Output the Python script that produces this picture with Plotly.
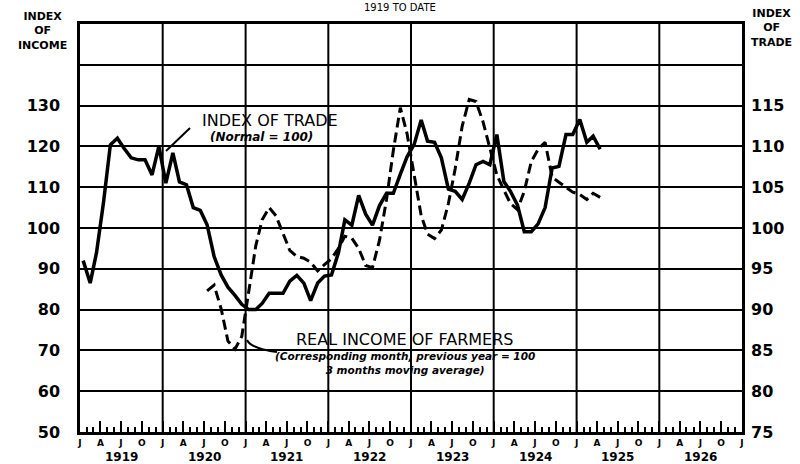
import plotly.graph_objects as go

# ---- data ----
start_year = 1919
n_trade = 76
trade_months = [f"{start_year + m // 12}-{m % 12 + 1:02d}-15" for m in range(n_trade)]
# Index of trade (right scale, normal = 100), Jan 1919 .. Apr 1925
trade_index = [96, 93.25, 97, 103.2, 110.2, 111, 109.75, 108.6, 108.35, 108.35, 106.5, 110,
               105.5, 109.2, 105.65, 105.3, 102.5, 102.15, 100.4, 96.5, 94.25, 92.75, 91.75, 90.65,
               90, 90, 90.75, 92, 92, 92, 93.5, 94.2, 93.25, 91.1, 93.25, 94.1,
               94.25, 97, 101, 100.35, 104, 101.7, 100.35, 102.75, 104.25, 104.25, 106.6, 108.75,
               110.25, 113.25, 110.65, 110.5, 108.6, 104.75, 104.5, 103.5, 105.5, 107.75, 108.15, 107.75,
               111.45, 105.7, 104.5, 102.8, 99.55, 99.55, 100.5, 102.5, 107.35, 107.55, 111.45, 111.45,
               113.3, 110.5, 111.25, 109.65]
# Real income of farmers (left scale), Jul 1920 .. Apr 1925
income_months = trade_months[18:]
farm_income = [84.6, 86, 80.2, 72.3, 70.3, 73.4,
               84.5, 95.7, 102, 105, 103, 98.5, 94.5, 93, 92.6, 91.6, 89.5, 91,
               92.5, 95, 98, 97.5, 95, 90.8, 90.3, 97, 107, 119, 129.5, 123,
               113.5, 103, 98.5, 97.4, 99.5, 106, 114.5, 125, 131.5, 131, 126, 119.5,
               113, 109.3, 106, 104.5, 109, 116.3, 119.3, 121, 112.5, 111.2, 110, 108.8,
               108.2, 107, 108.5, 107.5]

years = list(range(1919, 1927))
quarter_ticks = [f"{y}-{mm:02d}-01" for y in years for mm in (1, 4, 7, 10)] + ["1927-01-01"]
quarter_labels = ["J", "A", "J", "O"] * len(years) + ["J"]
left_ticks = list(range(50, 150, 10))
left_labels = [str(v) if v <= 130 else "" for v in left_ticks]
right_ticks = list(range(75, 120, 5))
right_labels = [str(v) for v in right_ticks]

FONT = "DejaVu Sans"

fig = go.Figure()
fig.add_trace(go.Scatter(x=income_months, y=farm_income, mode="lines", yaxis="y",
                         line=dict(color="black", width=3, dash="10px,5px"),
                         name="Real income of farmers"))
fig.add_trace(go.Scatter(x=trade_months, y=trade_index, mode="lines", yaxis="y2",
                         line=dict(color="black", width=3.5), name="Index of trade"))

shapes = []
for y in years[1:]:
    shapes.append(dict(type="line", xref="x", yref="paper", x0=f"{y}-01-01", x1=f"{y}-01-01",
                       y0=0, y1=1, line=dict(color="black", width=2), layer="below"))
# pointer lines
shapes.append(dict(type="line", xref="paper", yref="paper", x0=0.1662, y0=0.745, x1=0.1299, y1=0.6887,
                   line=dict(color="black", width=2)))
shapes.append(dict(type="path", xref="paper", yref="paper",
                   path="M 0.2523,0.2255 Q 0.258,0.205 0.2976,0.196",
                   line=dict(color="black", width=2)))


def ann(text, x, y, size, bold=False, italic=False, xref="paper", yanchor="middle"):
    f = dict(family=FONT, size=size, color="black")
    if bold:
        f["weight"] = "bold"
    if italic:
        f["style"] = "italic"
    return dict(text=text, x=x, y=y, xref=xref, yref="paper", xanchor="center",
                yanchor=yanchor, showarrow=False, font=f)


annotations = [
    ann("1919 TO DATE", 0.4834, 1.0588, 10, yanchor="top"),
    ann("INDEX<br>OF<br>INCOME", -0.0574, 0.983, 11, bold=True),
    ann("INDEX<br>OF<br>TRADE", 1.0453, 0.9914, 11, bold=True),
    ann("INDEX OF TRADE", 0.287, 0.7635, 16),
    ann("(Normal = 100)", 0.274, 0.723, 12, bold=True, italic=True),
    ann("REAL INCOME OF FARMERS", 0.491, 0.2255, 16),
    ann("(Corresponding month, previous year = 100<br>3 months moving average)", 0.491, 0.1679,
        10.5, bold=True, italic=True),
]
for y in years:
    annotations.append(ann(str(y), f"{y}-07-02", -0.038, 12, bold=True, xref="x", yanchor="top"))

fig.update_layout(
    width=800, height=464,
    margin=dict(l=80, r=58, t=24, b=32, autoexpand=False),
    plot_bgcolor="white", paper_bgcolor="white",
    showlegend=False,
    font=dict(family=FONT, color="black"),
    shapes=shapes, annotations=annotations,
    xaxis=dict(type="date", range=["1919-01-01", "1927-01-01"], automargin=False,
               tickmode="array", tickvals=quarter_ticks, ticktext=quarter_labels,
               ticks="inside", ticklen=11, tickwidth=2, tickcolor="black",
               showgrid=False, zeroline=False,
               showline=True, mirror=True, linecolor="black", linewidth=2.5,
               tickfont=dict(family=FONT, size=9, color="black", weight="bold"),
               minor=dict(dtick="M1", tick0="1919-01-01", ticks="inside", ticklen=5,
                          tickwidth=1.5, tickcolor="black", showgrid=False)),
    yaxis=dict(range=[50, 150], tickmode="array", tickvals=left_ticks, ticktext=left_labels,
               automargin=False,
               showgrid=True, gridcolor="black", gridwidth=2, zeroline=False,
               showline=True, mirror=True, linecolor="black", linewidth=2.5,
               ticks="", ticklabelstandoff=14,
               tickfont=dict(family=FONT, size=16, color="black", weight="bold")),
    yaxis2=dict(range=[75, 125], overlaying="y", side="right", tickmode="array",
                automargin=False,
                tickvals=right_ticks, ticktext=right_labels, showgrid=False, zeroline=False,
                showline=False, ticks="", ticklabelstandoff=8,
                tickfont=dict(family=FONT, size=16, color="black", weight="bold")),
)

fig.write_html("out.html", config={"displayModeBar": False},
               post_script="document.body.style.margin='0px';document.body.style.overflow='hidden';")
